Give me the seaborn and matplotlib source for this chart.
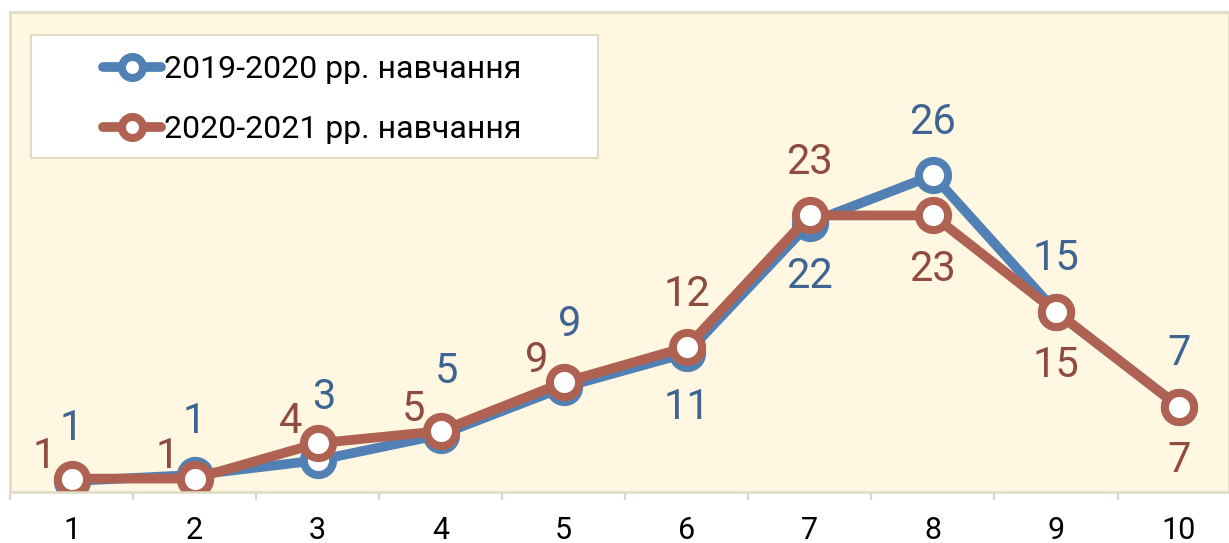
import seaborn as sns
import matplotlib.pyplot as plt
from matplotlib.patches import Rectangle
from matplotlib.ticker import FixedLocator

# data
grades = [1, 2, 3, 4, 5, 6, 7, 8, 9, 10]
tick_labels = ["1", "2", "3", "4", "5", "6", "7", "8", "9", "10"]
series_names = ["2019-2020 рр. навчання", "2020-2021 рр. навчання"]
values_2019 = [0.9, 1.4, 2.6, 4.7, 8.6, 11.4, 22.1, 26.0, 14.8, 7.0]
values_2020 = [1.1, 1.1, 4.0, 5.0, 9.0, 11.9, 22.7, 22.7, 14.8, 7.0]

# where each data label sits relative to its point
pos_2019 = ["above", "above", "above_right", "above_right", "above_right",
            "below", "below", "above", "above", "above"]
pos_2020 = ["left", "left", "left", "left", "left",
            "above", "above", "below", "below", "below"]

sns.set_theme(style="white")
plt.rcParams["font.family"] = ["Roboto", "DejaVu Sans"]

line_colors = ["#5181B4", "#B06252"]
text_colors = ["#3E6592", "#8E4B3E"]
offsets = {"above": (0, 53), "above_right": (6, 63),
           "below": (0, -54), "left": (-27, 22)}

fig = plt.figure(figsize=(12.29, 5.43), dpi=100)
ax = fig.add_axes([10 / 1229, 51 / 543, 1219 / 1229, 480 / 543])
ax.set_facecolor("#FFF7E1")

for vals, name, col, tcol, pos in zip([values_2019, values_2020], series_names,
                                      line_colors, text_colors, [pos_2019, pos_2020]):
    sns.lineplot(x=grades, y=vals, ax=ax, color=col, label=name, linewidth=7,
                 marker="o", markersize=21, markeredgewidth=5.8,
                 markerfacecolor="white", markeredgecolor=col)
    for x, v, p in zip(grades, vals, pos):
        ax.annotate(f"{v:.0f}", (x, v), xytext=offsets[p], textcoords="offset pixels",
                    ha="center", va="center", fontsize=30, color=tcol, zorder=5)

ax.set_xlim(0.5, 10.406)
ax.set_ylim(0, 39.4)
ax.set_yticks([])
ax.set_xticks(grades)
ax.set_xticklabels(tick_labels)
ax.xaxis.set_minor_locator(FixedLocator([g - 0.5 for g in grades] + [10.5]))
ax.tick_params(axis="x", which="major", length=0, pad=17, labelsize=22, labelcolor="black")
ax.tick_params(axis="x", which="minor", bottom=True, length=6, width=1.6, color="#DCD6BF")
ax.set_xlabel("")
ax.set_ylabel("")
for s in ax.spines.values():
    s.set_color("#E0DBC4")
    s.set_linewidth(1.8)

# legend box
ax.add_patch(Rectangle((31 / 1229, 1 - 158 / 543), 567 / 1229, 123 / 543,
                       transform=fig.transFigure, facecolor="white", clip_on=False,
                       edgecolor="#E0DBC4", linewidth=1.5, zorder=4))
leg = ax.legend(loc="upper left", bbox_to_anchor=(103 / 1229, 1 - 55 / 543),
                bbox_transform=fig.transFigure, frameon=False, fontsize=23,
                borderpad=0, borderaxespad=0, handlelength=1.8, handletextpad=0.12,
                labelspacing=0.97, markerscale=0.72, labelcolor="black")
leg.set_zorder(6)

fig.savefig("out.png", dpi=100)
